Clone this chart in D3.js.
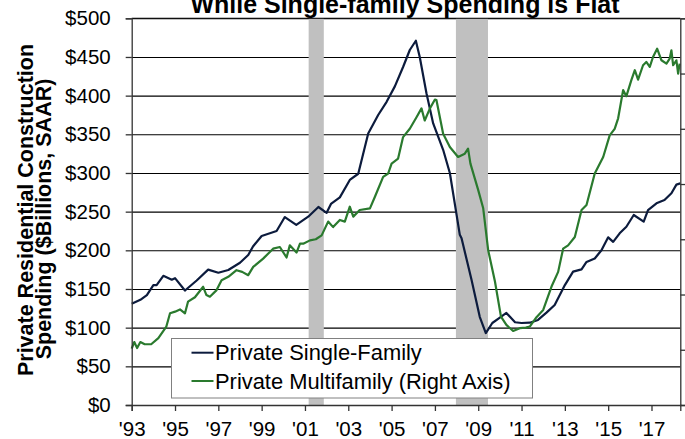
<!DOCTYPE html>
<html>
<head>
<meta charset="utf-8">
<script src="https://cdn.jsdelivr.net/npm/d3@7"></script>
<style>
    body { margin: 0; background: #fff; }
    text { font-family: "Liberation Sans", Arial, sans-serif; fill: #000; }
</style>
</head>
<body>
<svg id="svgMain" width="685" height="439"></svg>
<script>
// Private single-family spending ($ billions, SAAR) - left axis
const sfYears = [1993.0, 1993.4, 1993.7, 1994.0, 1994.15, 1994.46, 1994.85, 1995.0, 1995.46, 1996.0,
    1996.53, 1997.0, 1997.46, 1998.0, 1998.38, 1998.6, 1999.0, 1999.69, 2000.07, 2000.6,
    2001.15, 2001.62, 2002.0, 2002.2, 2002.61, 2003.07, 2003.46, 2003.92, 2004.38, 2004.77,
    2005.15, 2005.53, 2005.84, 2006.12, 2006.3, 2006.61, 2006.92, 2007.38, 2007.69, 2008.15,
    2008.23, 2008.69, 2009.07, 2009.35, 2009.65, 2009.95, 2010.3, 2010.7, 2011.0, 2011.38,
    2011.76, 2012.15, 2012.53, 2013.0, 2013.38, 2013.77, 2014.0, 2014.38, 2014.69, 2015.0,
    2015.23, 2015.53, 2015.84, 2016.18, 2016.64, 2016.84, 2017.23, 2017.6, 2017.92, 2018.15, 2018.33];
const sfSpend = [131, 136, 142, 155, 155, 167, 162, 164, 148, 161,
    175, 171, 174.5, 184, 194, 205, 218.5, 225, 243, 233,
    243.5, 256, 248.5, 260, 268.5, 291, 299, 351, 375, 392,
    412, 437, 459, 471, 450, 403, 364, 330, 300, 220,
    215.5, 162, 114, 93, 106, 112, 119, 107, 106, 106.4,
    110, 119.4, 129.3, 155, 172.4, 175.4, 185, 189.5, 200, 216.8,
    211, 222, 230.5, 245.7, 237, 252, 260.8, 265, 273.7, 285, 286.5];

// Private multifamily spending ($ billions, SAAR) - right axis
const mfYears = [1993.0, 1993.12, 1993.25, 1993.4, 1993.6, 1993.9, 1994.23, 1994.6, 1994.77, 1995.0,
    1995.23, 1995.46, 1995.6, 1995.92, 1996.3, 1996.45, 1996.61, 1996.92, 1997.15, 1997.46,
    1997.84, 1998.1, 1998.38, 1998.61, 1999.07, 1999.53, 1999.84, 2000.15, 2000.3, 2000.61,
    2000.77, 2000.92, 2001.23, 2001.5, 2001.77, 2002.07, 2002.3, 2002.61, 2002.84, 2003.07,
    2003.23, 2003.53, 2004.0, 2004.23, 2004.61, 2004.84, 2005.0, 2005.3, 2005.53, 2005.84,
    2006.15, 2006.38, 2006.53, 2006.77, 2007.0, 2007.07, 2007.38, 2007.69, 2008.07, 2008.38,
    2008.53, 2008.64, 2009.0, 2009.23, 2009.46, 2009.77, 2010.05, 2010.3, 2010.61, 2010.92,
    2011.2, 2011.38, 2011.69, 2012.0, 2012.38, 2012.69, 2012.92, 2013.15, 2013.46, 2013.77,
    2014.0, 2014.38, 2014.77, 2015.07, 2015.3, 2015.46, 2015.69, 2015.84, 2016.07, 2016.23,
    2016.38, 2016.61, 2016.76, 2016.92, 2017.07, 2017.26, 2017.46, 2017.69, 2017.84, 2017.92,
    2018.0, 2018.15, 2018.23, 2018.3];
const mfSpend = [10.2, 11.4, 10.3, 11.4, 11.0, 11.0, 12.1, 14.2, 16.6, 16.9,
    17.3, 16.6, 18.7, 19.5, 21.4, 19.9, 19.6, 20.8, 22.6, 23.2,
    24.4, 24.1, 23.5, 25.0, 26.5, 28.3, 28.6, 26.7, 28.9, 27.6,
    29.2, 29.2, 29.8, 30.0, 30.7, 33.2, 32.2, 33.5, 33.2, 35.9,
    34.1, 35.3, 35.6, 37.7, 41.3, 41.9, 43.7, 44.6, 48.5, 50.0,
    52.1, 53.7, 51.5, 53.7, 55.3, 55.2, 49.1, 46.7, 44.9, 45.5,
    46.4, 43.7, 38.9, 35.6, 28.0, 22.4, 16.0, 14.5, 13.4, 13.9,
    14.0, 14.2, 15.9, 17.2, 21.4, 24.1, 28.3, 28.9, 30.4, 35.3,
    36.2, 41.9, 44.9, 48.8, 50.0, 51.9, 57.0, 55.9, 58.8, 60.6,
    58.9, 61.5, 62.1, 61.2, 63.0, 64.5, 62.4, 61.8, 62.7, 64.2,
    61.5, 62.4, 60.0, 61.8];

const recessionStart = [2001.17, 2007.97];
const recessionEnd = [2001.87, 2009.45];
const leftTicks = [0, 50, 100, 150, 200, 250, 300, 350, 400, 450, 500];
const rightTicks = [0, 10, 20, 30, 40, 50, 60, 70];
const yearTicks = [1993, 1995, 1997, 1999, 2001, 2003, 2005, 2007, 2009, 2011, 2013, 2015, 2017];
const seriesNames = ["Private Single-Family", "Private Multifamily (Right Axis)"];
const seriesColors = ["#0c1b3d", "#2a7a2e"];

let svgMain = d3.select("#svgMain");
let svgMainWidth = +svgMain.attr("width");
let svgMainHeight = +svgMain.attr("height");
var margin = { top: 18.3, right: 4.7, bottom: 34, left: 131.7 };
var plotWidth = svgMainWidth - margin.left - margin.right;
var plotHeight = svgMainHeight - margin.top - margin.bottom;

//Scales
const xScale = d3.scaleLinear().domain([1993, 2018.33]).range([0, plotWidth]);
const leftScale = d3.scaleLinear().domain([0, 500]).range([plotHeight, 0]);
const rightScale = d3.scaleLinear().domain([0, 70]).range([plotHeight, 0]);

const plot = svgMain.append("g")
    .attr("transform", "translate(" + margin.left + "," + margin.top + ")");

//Gridlines
let yGridlines = d3.axisLeft(leftScale).tickValues(leftTicks).tickSize(-plotWidth).tickFormat("");
plot.append("g")
    .attr("class", "y gridlines")
    .call(yGridlines)
    .call(g => g.select(".domain").remove())
    .selectAll("line")
    .style("stroke", "#000")
    .style("stroke-width", "1.1px");

//Recession bars
plot.selectAll(".recession")
    .data(recessionStart)
    .enter().append("rect")
    .attr("class", "recession")
    .attr("x", d => xScale(d))
    .attr("y", 0)
    .attr("width", (d, i) => xScale(recessionEnd[i]) - xScale(d))
    .attr("height", plotHeight)
    .style("fill", "#c0c0c0");

// top border
plot.append("line")
    .attr("x1", 0).attr("x2", plotWidth)
    .attr("y1", leftScale(500)).attr("y2", leftScale(500))
    .style("stroke", "#000")
    .style("stroke-width", "1.1px");

//Lines
const sfLine = d3.line()
    .x((d, i) => xScale(sfYears[i]))
    .y(d => leftScale(d));
const mfLine = d3.line()
    .x((d, i) => xScale(mfYears[i]))
    .y(d => rightScale(d));

plot.append("path")
    .attr("d", sfLine(sfSpend))
    .style("fill", "none")
    .style("stroke", seriesColors[0])
    .style("stroke-width", "2.2px")
    .style("stroke-linejoin", "round");

plot.append("path")
    .attr("d", mfLine(mfSpend))
    .style("fill", "none")
    .style("stroke", seriesColors[1])
    .style("stroke-width", "2.2px")
    .style("stroke-linejoin", "round");

//Axis
let yAxis = d3.axisLeft(leftScale).tickValues(leftTicks).tickSize(6).tickPadding(15)
    .tickFormat(d => "$" + d);
plot.append("g")
    .attr("class", "y axis")
    .call(yAxis)
    .style("font-size", "20.5px");

let y2Axis = d3.axisRight(rightScale).tickValues(rightTicks).tickSize(5).tickFormat("");
plot.append("g")
    .attr("class", "y2 axis")
    .attr("transform", "translate(" + plotWidth + ",0)")
    .call(y2Axis);

let xAxis = d3.axisBottom(xScale).tickValues(yearTicks).tickSize(6).tickPadding(10)
    .tickFormat(d => "'" + String(d).slice(2));
plot.append("g")
    .attr("class", "x axis")
    .attr("transform", "translate(0," + plotHeight + ")")
    .call(xAxis)
    .style("font-size", "20.5px");

svgMain.selectAll(".axis path, .axis line")
    .style("stroke", "#333")
    .style("stroke-width", "1.3px");
svgMain.selectAll(".axis text").style("font-family", "'Liberation Sans', Arial, sans-serif");

//Legend
const legend = svgMain.append("g").attr("class", "legend");
legend.append("rect")
    .attr("x", 171.5).attr("y", 338.5)
    .attr("width", 361).attr("height", 59.5)
    .style("fill", "#fff")
    .style("stroke", "#808080")
    .style("stroke-width", "1px");

const legendRows = legend.selectAll(".row")
    .data(seriesNames)
    .enter().append("g")
    .attr("class", "row")
    .attr("transform", (d, i) => "translate(191.5," + (352.7 + i * 28.3) + ")");
legendRows.append("line")
    .attr("x1", 0).attr("x2", 22)
    .attr("y1", 0).attr("y2", 0)
    .style("stroke", (d, i) => seriesColors[i])
    .style("stroke-width", "2px");
legendRows.append("text")
    .attr("x", 23.5)
    .attr("y", 0)
    .attr("dy", "0.35em")
    .style("font-size", "21.9px")
    .text(d => d);

//Title (top line cropped in the source)
svgMain.append("text")
    .attr("x", 405)
    .attr("y", 13)
    .attr("text-anchor", "middle")
    .style("font-size", "25px")
    .style("font-weight", "bold")
    .text("While Single-family Spending is Flat");

// y label
svgMain.append("text")
    .attr("x", -210)
    .attr("y", 33)
    .attr("text-anchor", "middle")
    .attr("transform", "rotate(-90)")
    .style("font-size", "21.5px")
    .style("font-weight", "bold")
    .text("Private Residential Construction");
svgMain.append("text")
    .attr("x", -219)
    .attr("y", 51)
    .attr("text-anchor", "middle")
    .attr("transform", "rotate(-90)")
    .style("font-size", "21.5px")
    .style("font-weight", "bold")
    .text("Spending ($Billions, SAAR)");
</script>
</body>
</html>
